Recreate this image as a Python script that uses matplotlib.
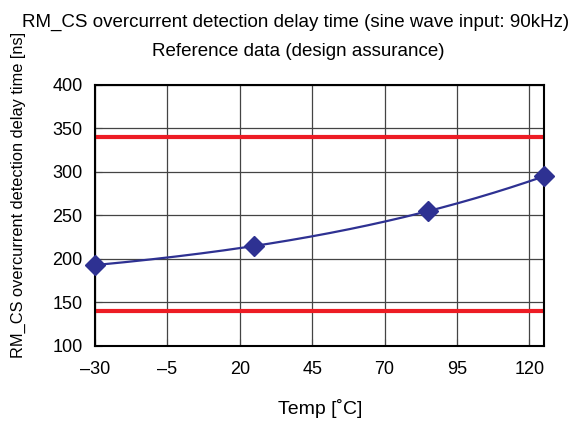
import numpy as np
import matplotlib.pyplot as plt

plt.rcParams['font.family'] = ['Liberation Sans', 'DejaVu Sans']

# data
temp = [-30, 25, 85, 125]
delay = [193, 215, 255, 295]
limit_hi = 340
limit_lo = 140
xticks = [-30, -5, 20, 45, 70, 95, 120]
yticks = [100, 150, 200, 250, 300, 350, 400]

fig = plt.figure(figsize=(5.88, 4.26), dpi=100)
ax = fig.add_axes([0.1616, 0.1878, 0.7634, 0.6127])

# smooth line through the measured points
coef = np.polyfit(temp, delay, 3)
xs = np.linspace(temp[0], temp[-1], 200)
ax.plot(xs, np.polyval(coef, xs), color='#2e3192', lw=1.6, zorder=3)
ax.plot(temp, delay, 'D', color='#2e3192', ms=10, zorder=4, clip_on=False)

ax.axhline(limit_hi, color='#ed1c24', lw=3, zorder=2)
ax.axhline(limit_lo, color='#ed1c24', lw=3, zorder=2)

ax.set_xlim(-30, 125)
ax.set_ylim(100, 400)
ax.set_xticks(xticks)
ax.set_xticklabels([str(t).replace('-', '\u2013') for t in xticks])
ax.set_yticks(yticks)
ax.grid(True, color='#444444', lw=0.9)
ax.tick_params(direction='in', labelsize=13, length=5, color='#444444')
ax.tick_params(axis='x', pad=11)
ax.tick_params(axis='y', pad=9)
for s in ax.spines.values():
    s.set_linewidth(1.5)

# подписи осей и заголовки
fig.text(0.545, 0.042, 'Temp [˚C]', ha='center', va='center', fontsize=14)
fig.text(0.031, 0.542, 'RM_CS overcurrent detection delay time [ns]',
         ha='center', va='center', rotation=90, fontsize=11.8)
fig.text(0.502, 0.948, 'RM_CS overcurrent detection delay time (sine wave input: 90kHz)',
         ha='center', va='center', fontsize=13.5)
fig.text(0.507, 0.878, 'Reference data (design assurance)', ha='center', va='center', fontsize=13.5)

fig.savefig('out.png', dpi=100)
